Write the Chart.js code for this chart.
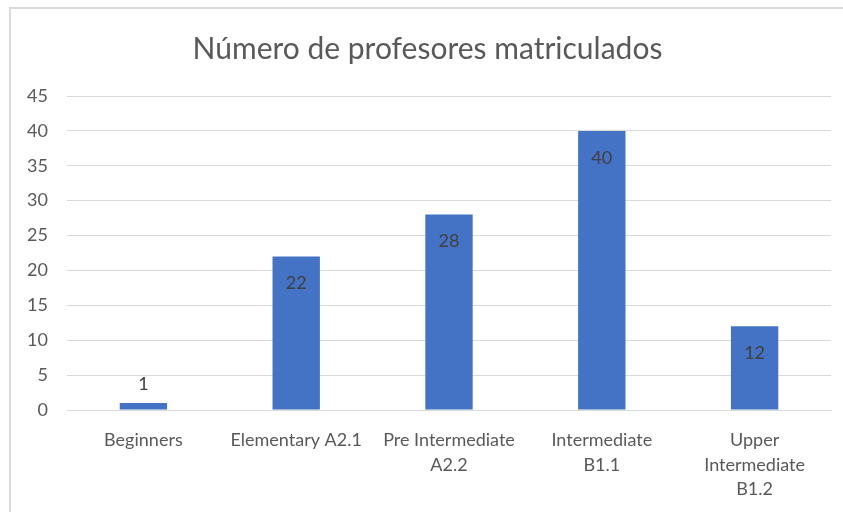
<!DOCTYPE html>
<html>
<head>
<meta charset="utf-8">
<script src="https://cdn.jsdelivr.net/npm/chart.js@4/dist/chart.umd.min.js"></script>
<style>
  html, body { margin: 0; padding: 0; background: #fff; overflow: hidden; }
  #wrap { position: relative; width: 843px; height: 512px; overflow: hidden; }
  #frame { position: absolute; left: 9px; top: 7px; width: 860px; height: 530px; border: 2px solid #d9d9d9; box-sizing: border-box; pointer-events: none; }
  canvas { position: absolute; left: 0; top: 0; }
</style>
</head>
<body>
<div id="wrap">
  <canvas id="chart" width="843" height="512"></canvas>
  <div id="frame"></div>
</div>
<script>
const chartTitle = 'Número de profesores matriculados';
const categories = [
    'Beginners',
    'Elementary A2.1',
    ['Pre Intermediate', 'A2.2'],
    ['Intermediate', 'B1.1'],
    ['Upper', 'Intermediate', 'B1.2']
];
const teachers = [1, 22, 28, 40, 12];
const yTicks = { min: 0, max: 45, step: 5 };

const FONT = 'Lato, "Open Sans", sans-serif';
const textColor = '#595959';

// writes each value at the top of its bar, like the Excel data labels
const barValues = {
    id: 'barValues',
    afterDatasetsDraw(chart) {
        const { ctx } = chart;
        const meta = chart.getDatasetMeta(0);
        ctx.save();
        ctx.font = '18px ' + FONT;
        ctx.fillStyle = '#404040';
        ctx.textAlign = 'center';
        ctx.textBaseline = 'middle';
        meta.data.forEach((bar, i) => {
            const height = bar.base - bar.y;
            const y = height > 40 ? bar.y + 27 : bar.y - 19;
            ctx.fillText(String(teachers[i]), bar.x, y);
        });
        ctx.restore();
    }
};

new Chart(document.getElementById('chart'), {
    type: 'bar',
    data: {
        labels: categories,
        datasets: [{
            data: teachers,
            backgroundColor: '#4472c4',
            borderWidth: 0,
            categoryPercentage: 1,
            barPercentage: 0.31
        }]
    },
    options: {
        responsive: false,
        animation: false,
        layout: { padding: { left: 24, right: 12, top: 0, bottom: 0 } },
        plugins: {
            legend: { display: false },
            tooltip: { enabled: false },
            title: {
                display: true,
                text: chartTitle,
                color: textColor,
                font: { family: FONT, size: 30, weight: 'normal' },
                padding: { top: 31, bottom: 29 }
            }
        },
        scales: {
            x: {
                grid: { display: false },
                border: { color: '#d9d9d9', width: 1 },
                ticks: {
                    color: textColor,
                    font: { family: FONT, size: 18, lineHeight: 1.36 },
                    padding: 10,
                    maxRotation: 0,
                    autoSkip: false
                },
                afterFit(scale) { scale.height = 102; }
            },
            y: {
                min: yTicks.min,
                max: yTicks.max,
                border: { display: false },
                grid: { color: '#d9d9d9', lineWidth: 1, drawTicks: false },
                ticks: {
                    stepSize: yTicks.step,
                    color: textColor,
                    font: { family: FONT, size: 18 },
                    padding: 19
                },
                afterFit(scale) { scale.width = 43; }
            }
        }
    },
    plugins: [barValues]
});
</script>
</body>
</html>
